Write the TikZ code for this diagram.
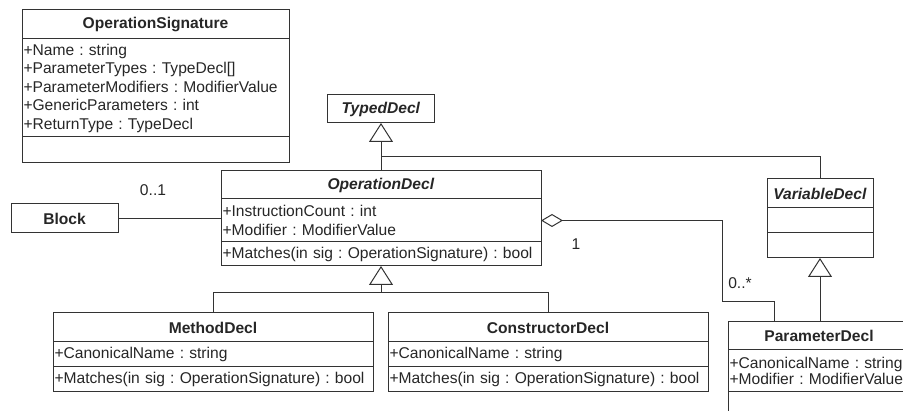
\documentclass[tikz,border=0pt]{standalone}
\usepackage{fontspec}
\setmainfont{Liberation Sans}
\usetikzlibrary{positioning,arrows.meta}
\newcommand{\ClassName}[1]{\textbf{#1}}
\newcommand{\AbstractName}[1]{\textbf{\textit{#1}}}
\frenchspacing

\begin{document}
\begin{tikzpicture}[
                    >={Triangle[open,length=19pt,width=24pt]},
                x=1pt, y=-1pt,
                line width=1pt, color=black!80,
                every node/.style={font=\fontsize{15.6}{18.5}\selectfont, text=black!85, inner sep=0pt, outer sep=0pt},
                head/.style 2 args={draw=black!80, minimum width=#1, minimum height=#2},
                part/.style 2 args={draw=black!80, text width=#1, minimum height=#2, align=left, inner xsep=1.5pt}]

                \useasboundingbox (0,0) rectangle (903,411);
                \clip (0,0) rectangle (903,411);

                \draw(155.5,24.5) node[head={267pt}{29pt}] (Sig) {\ClassName{OperationSignature}};
                \draw node[part={264pt}{98pt}, below=0pt of Sig] (Sig1) {+Name : string\\+ParameterTypes : TypeDecl[]\\+ParameterModifiers : ModifierValue\\+GenericParameters : int\\+ReturnType : TypeDecl};
                \draw node[part={264pt}{26pt}, below=0pt of Sig1] (Sig2) {};

                \draw(381,109) node[head={107pt}{28pt}] (Typed) {\AbstractName{TypedDecl}};

                \draw(381,185) node[head={320pt}{28pt}] (Op) {\AbstractName{OperationDecl}};
                \draw node[part={317pt}{43pt}, below=0pt of Op] (Op1) {+InstructionCount : int\\+Modifier : ModifierValue};
                \draw node[part={317pt}{24pt}, below=0pt of Op1] (Op2) {+Matches(in sig : OperationSignature) : bool};

                \draw(64.5,218.5) node[head={107pt}{29pt}] (Blk) {\ClassName{Block}};

                \draw(820,193.5) node[head={106pt}{29pt}] (Var) {\AbstractName{VariableDecl}};
                \draw node[part={103pt}{25pt}, below=0pt of Var] (Var1) {};
                \draw node[part={103pt}{25pt}, below=0pt of Var1] (Var2) {};

                \draw(213,327.5) node[head={320pt}{29pt}] (Meth) {\ClassName{MethodDecl}};
                \draw node[part={317pt}{25pt}, below=0pt of Meth] (Meth1) {+CanonicalName : string};
                \draw node[part={317pt}{25pt}, below=0pt of Meth1] (Meth2) {+Matches(in sig : OperationSignature) : bool};

                \draw(548,327.5) node[head={320pt}{29pt}] (Ctor) {\ClassName{ConstructorDecl}};
                \draw node[part={317pt}{25pt}, below=0pt of Ctor] (Ctor1) {+CanonicalName : string};
                \draw node[part={317pt}{25pt}, below=0pt of Ctor1] (Ctor2) {+Matches(in sig : OperationSignature) : bool};

                \draw(819,336) node[head={182pt}{28pt}] (Par) {\ClassName{ParameterDecl}};
                \draw node[part={179pt}{42pt}, below=0pt of Par] (Par1) {+CanonicalName : string\\[-1.8pt]+Modifier : ModifierValue};
                \draw node[part={179pt}{30pt}, below=0pt of Par1] (Par2) {};

                \draw(153,190) node (M1) {0..1};
                \draw(576,244) node (M2) {1};
                \draw(740,283) node (M3) {0..*};

                \coordinate (J1) at (381,157);
                \coordinate (J2) at (381,293);
                \coordinate (J3) at (722,302);
                \coordinate (J4) at (774,322);

                \draw[->] (Op.north) -- (Typed.south);
                \draw (Var.north) |- (J1);
                \draw[->] (J2) -- (Op2.south);
                \draw (Meth.north) |- (J2);
                \draw (Ctor.north) |- (J2);
                \draw[->] (Par.north -| Var2.south) -- (Var2.south);
                \draw (Blk.east) -- (Blk.east -| Op1.west);
                \draw[{Diamond[open,length=22pt,width=13pt]}-] (Op1.east) -| (J3) -| (J4);

            \end{tikzpicture}
\end{document}
